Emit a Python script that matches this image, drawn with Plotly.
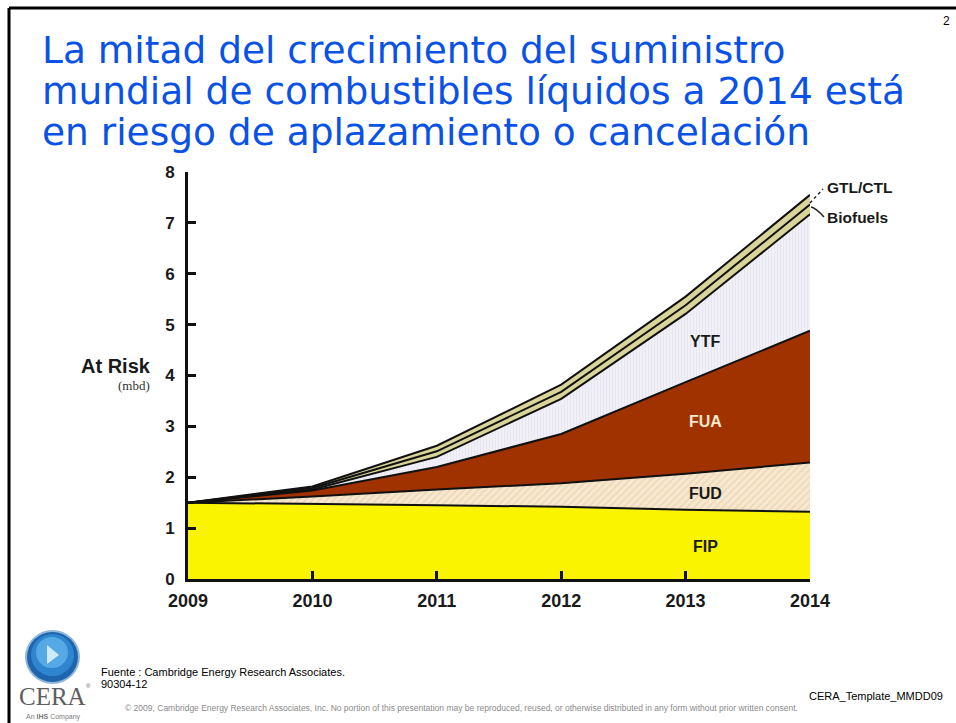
import plotly.graph_objects as go

# ---------------- data ----------------
years = [2009, 2010, 2011, 2012, 2013, 2014]
fip = [1.50, 1.48, 1.45, 1.42, 1.36, 1.32]
fud = [0.00, 0.14, 0.31, 0.46, 0.71, 0.97]
fua = [0.00, 0.12, 0.44, 0.97, 1.80, 2.59]
ytf = [0.00, 0.02, 0.20, 0.69, 1.34, 2.29]
biofuels = [0.00, 0.03, 0.11, 0.14, 0.17, 0.19]
gtl_ctl = [0.00, 0.03, 0.11, 0.14, 0.17, 0.19]
y_ticks = [0, 1, 2, 3, 4, 5, 6, 7, 8]

title_lines = [
    "La mitad del crecimiento del suministro",
    "mundial de combustibles líquidos a 2014 está",
    "en riesgo de aplazamiento o cancelación",
]

# ---------------- geometry helpers ----------------
W, H = 956, 723
L, R, T, B = 188, 146, 172, 144
PW, PH = W - L - R, H - T - B


def px(x):
    return (x - L) / PW


def py(y):
    return (H - B - y) / PH


fig = go.Figure()

layers = [
    ("FIP", fip, "#FAF400", None),
    ("FUD", fud, "#F6E7CE", dict(shape="/", bgcolor="#F6E7CE", fgcolor="#DCC29A", size=5, solidity=0.25)),
    ("FUA", fua, "#A03200", None),
    ("YTF", ytf, "#EFEEF6", dict(shape="|", bgcolor="#F1F0F7", fgcolor="#DEDCE9", size=3, solidity=0.3)),
    ("Biofuels", biofuels, "#D8D49A", None),
    ("GTL/CTL", gtl_ctl, "#D8D49A", None),
]
for name, vals, col, patt in layers:
    kw = dict(
        x=years, y=vals, name=name, mode="lines", stackgroup="one",
        line=dict(color="#111111", width=2), fillcolor=col, hoverinfo="skip",
    )
    if patt:
        kw["fillpattern"] = patt
    fig.add_trace(go.Scatter(**kw))

annotations = []
# title
title_centers = [50, 91, 132]
for txt, yc in zip(title_lines, title_centers):
    annotations.append(dict(
        text=txt, x=px(40), y=py(yc), xref="paper", yref="paper",
        xanchor="left", yanchor="middle", showarrow=False,
        font=dict(family="DejaVu Sans", size=37.5, color="#0A52E6"),
    ))

# layer labels
lab_font = dict(family="Liberation Sans", size=16, weight="bold")
for txt, yc, col in [("YTF", 341, "#1A1A1A"), ("FUA", 421, "#F7E8CC"),
                     ("FUD", 493, "#1A1A1A"), ("FIP", 546, "#1A1A1A")]:
    annotations.append(dict(
        text=txt, x=px(705), y=py(yc), xref="paper", yref="paper",
        xanchor="center", yanchor="middle", showarrow=False,
        font=dict(lab_font, color=col),
    ))
for txt, yc in [("GTL/CTL", 187), ("Biofuels", 217)]:
    annotations.append(dict(
        text=txt, x=px(825), y=py(yc), xref="paper", yref="paper",
        xanchor="left", yanchor="middle", showarrow=False,
        font=dict(family="Liberation Sans", size=15.5, weight="bold", color="#1A1A1A"),
    ))

# y axis title
annotations.append(dict(
    text="At Risk", x=px(153), y=py(366), xref="paper", yref="paper",
    xanchor="right", yanchor="middle", showarrow=False,
    font=dict(family="Liberation Sans", size=20, weight="bold", color="#1A1A1A"),
))
annotations.append(dict(
    text="(mbd)", x=px(152), y=py(385), xref="paper", yref="paper",
    xanchor="right", yanchor="middle", showarrow=False,
    font=dict(family="Liberation Serif", size=13, color="#333333"),
))

# page number
annotations.append(dict(
    text="2", x=px(952), y=py(21), xref="paper", yref="paper",
    xanchor="right", yanchor="middle", showarrow=False,
    font=dict(family="Liberation Sans", size=12, color="#000000"),
))

# footer
footer = [
    dict(text="Fuente : Cambridge Energy Research Associates.", x=px(99), y=py(672),
         xanchor="left", yanchor="middle",
         font=dict(family="Liberation Sans", size=11, color="#000000")),
    dict(text="90304-12", x=px(99), y=py(684), xanchor="left", yanchor="middle",
         font=dict(family="Liberation Sans", size=11, color="#000000")),
    dict(text="CERA_Template_MMDD09", x=px(945), y=py(696), xanchor="right", yanchor="middle",
         font=dict(family="Liberation Sans", size=11, color="#000000")),
    dict(text="© 2009, Cambridge Energy Research Associates, Inc. No portion of this presentation may be "
              "reproduced, reused, or otherwise distributed in any form without prior written consent.",
         x=px(123), y=py(708), xanchor="left", yanchor="middle",
         font=dict(family="Liberation Sans", size=8.5, color="#8A8A8A")),
    dict(text="CERA", x=px(52), y=py(696), xanchor="center", yanchor="middle",
         font=dict(family="Liberation Serif", size=25, color="#5E5E5E")),
    dict(text="®", x=px(88), y=py(686), xanchor="center", yanchor="middle",
         font=dict(family="Liberation Sans", size=6, color="#5E5E5E")),
    dict(text="An <b>IHS</b> Company", x=px(53), y=py(717), xanchor="center", yanchor="middle",
         font=dict(family="Liberation Sans", size=7, color="#7A7A7A")),
]
for a in footer:
    a.update(xref="paper", yref="paper", showarrow=False)
annotations += footer

shapes = [
    # slide frame
    dict(type="line", x0=px(9), x1=px(956), y0=py(8), y1=py(8), line=dict(color="#000", width=3)),
    dict(type="line", x0=px(9), x1=px(9), y0=py(8), y1=py(723), line=dict(color="#000", width=3)),
    # leader lines
    dict(type="line", x0=px(810), x1=px(823), y0=py(203), y1=py(189),
         line=dict(color="#222", width=1.5, dash="dot")),
    dict(type="path", path=f"M {px(811)},{py(207)} Q {px(816)},{py(208)} {px(824)},{py(217)}",
         line=dict(color="#222", width=1.5)),
    # CERA globe logo
    dict(type="circle", x0=px(25), x1=px(80), y0=py(630), y1=py(684),
         fillcolor="#8FB8DA", line=dict(width=0)),
    dict(type="circle", x0=px(27), x1=px(78), y0=py(632), y1=py(682),
         fillcolor="#1F65AE", line=dict(width=0)),
    dict(type="circle", x0=px(31), x1=px(74), y0=py(634), y1=py(676),
         fillcolor="#2F86CF", line=dict(width=0)),
    dict(type="circle", x0=px(36), x1=px(68), y0=py(637), y1=py(668),
         fillcolor="#55AAE6", line=dict(width=0)),
    dict(type="path", path=f"M {px(47)},{py(645)} L {px(59)},{py(655)} L {px(47)},{py(664)} Z",
         fillcolor="#CFEAFB", line=dict(width=0)),
]
for s in shapes:
    s.update(xref="paper", yref="paper")

fig.update_layout(
    width=W, height=H,
    margin=dict(l=L, r=R, t=T, b=B),
    paper_bgcolor="#FFFFFF", plot_bgcolor="#FFFFFF",
    showlegend=False,
    annotations=annotations,
    shapes=shapes,
    xaxis=dict(
        range=[2009, 2014], tickvals=years, ticktext=[str(y) for y in years],
        showgrid=False, zeroline=False, showline=True, linecolor="#111", linewidth=3,
        ticks="inside", ticklen=8, tickwidth=2.5, tickcolor="#111",
        tickfont=dict(family="Liberation Sans", size=18, weight="bold", color="#1A1A1A"),
        ticklabelstandoff=3,
    ),
    yaxis=dict(
        range=[0, 8], tickvals=y_ticks,
        showgrid=False, zeroline=False, showline=True, linecolor="#111", linewidth=3,
        ticks="inside", ticklen=8, tickwidth=2.5, tickcolor="#111",
        tickfont=dict(family="Liberation Sans", size=17, weight="bold", color="#1A1A1A"),
        ticklabelstandoff=7,
    ),
)

fig.write_html(
    "out.html",
    config={"displayModeBar": False},
    post_script="document.body.style.margin='0px';document.body.style.overflow='hidden';",
)
